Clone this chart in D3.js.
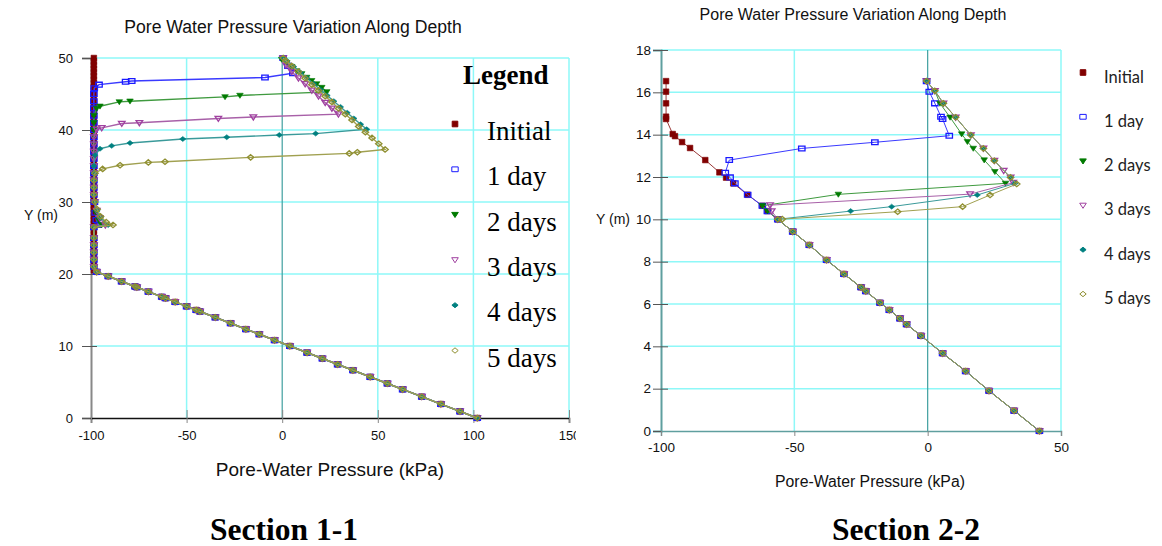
<!DOCTYPE html>
<html><head><meta charset="utf-8">
<script src="https://cdn.jsdelivr.net/npm/d3@7"></script>
<style>body{margin:0;background:#fff;}svg{display:block;}</style>
</head><body>
<svg id="c" width="1162" height="546"></svg>
<script>
// ---------------- DATA ----------------
const seriesNames = ["Initial", "1 day", "2 days", "3 days", "4 days", "5 days"];
const chartTitle = "Pore Water Pressure Variation Along Depth";
const xLabel = "Pore-Water Pressure (kPa)";
const yLabel = "Y (m)";
const sectionNames = ["Section 1-1", "Section 2-2"];

// Section 1-1
const sec1XTicks = [-100, -50, 0, 50, 100, 150];
const sec1YTicks = [0, 10, 20, 30, 40, 50];
const sec1Lower = [[-97,20.3],[-91,19.69],[-84,18.97],[-77,18.26],[-76,18.16],[-70,17.55],[-63,16.83],[-61,16.63],[-56,16.12],[-50,15.51],[-45,15.0],[-43,14.79],[-35,13.98],[-27,13.16],[-19,12.34],[-12,11.63],[-4,10.81],[4,10.0],[13,9.08],[21,8.26],[29,7.45],[37,6.63],[46,5.71],[55,4.79],[63,3.98],[73,2.96],[83,1.94],[93,0.92],[102,0]];
const sec1InitialUpper = [[-98.5,50],[-98.5,49.5],[-98.5,49],[-98.5,48.5],[-98.5,48],[-98.5,47.5],[-98.5,47],[-98.5,46.5],[-98.5,46],[-98.5,45.5],[-98.5,45],[-98.5,44.5],[-98.5,44],[-98.5,43.5],[-98.5,43],[-98.5,42.5],[-98.5,42],[-98.5,41.5],[-98.5,41],[-98.5,40.5],[-98.5,40],[-98.5,39.5],[-98.5,39],[-98.5,38.5],[-98.5,38],[-98.5,37.5],[-98.5,37],[-98.5,36.5],[-98.5,36],[-98.5,35.5],[-98.5,35],[-98.5,34.5],[-98.5,34],[-98.5,33.5],[-98.5,33],[-98.5,32.5],[-98.5,32],[-98.5,31.5],[-98.5,31],[-98.5,30.5],[-98.5,30],[-98.5,29.5],[-98.5,29],[-98.5,28.5],[-98.5,28],[-98.5,27.5],[-98.5,27],[-98.5,26.5],[-98.5,26],[-98.5,25.5],[-98.5,25],[-98.5,24.5],[-98.5,24],[-98.5,23.5],[-98.5,23],[-98.5,22.5],[-98.5,22],[-98.5,21.5],[-98.5,21],[-98.5,20.5]];
const sec1Day1Upper = [[0.5,50],[3,48.9],[5.6,47.9],[-9,47.3],[-78.7,46.8],[-81.9,46.7],[-95.8,46.3],[-98.3,45.8],[-98.5,45],[-98.5,44],[-98.5,43],[-98.5,42],[-98.5,41],[-98.5,40],[-98.5,39],[-98.5,38],[-98.5,37],[-98.5,36],[-98.5,35],[-98.5,34],[-98.5,33],[-98.5,32],[-98.5,31],[-98.2,30],[-97.8,28.5],[-97.2,27.5],[-96.2,26.8],[-98.5,26.5],[-98.5,25],[-98.5,24],[-98.5,23],[-98.5,22],[-98.5,21]];
const sec1Day2Upper = [[-0.3,49.8],[2.35,49.35],[5,48.8],[7.6,48.2],[10.2,47.8],[12.8,47.3],[15.4,46.85],[18,46.4],[20.7,45.9],[23.3,45.3],[-22.1,44.8],[-29.9,44.6],[-79.6,44.0],[-85.2,43.9],[-95.3,43.3],[-97,43.0],[-98.5,42],[-98.5,41],[-98.5,40],[-98.5,39],[-98.5,38],[-98.5,37],[-98.5,36],[-98.5,35],[-98.5,34],[-98.5,33],[-98.5,32],[-98.5,31],[-98,30],[-97.3,28.5],[-96,27.5],[-94.5,26.8],[-98.5,26.5],[-98.5,25],[-98.5,24],[-98.5,23],[-98.5,22],[-98.5,21]];
const sec1Day3Upper = [[0.5,50],[2,49.0],[5,48.1],[8.5,47.2],[12,46.4],[15.5,45.5],[19,44.7],[22.5,43.8],[26,43.0],[29.4,42.2],[-15.1,41.8],[-33.4,41.6],[-74.7,41.0],[-83.9,40.9],[-94.4,40.3],[-97,40.1],[-98.5,39],[-98.5,38],[-98.5,37],[-98.5,36],[-98.5,35],[-98.5,34],[-98.5,33],[-98.5,32],[-98.5,31],[-98,30],[-97,28.8],[-95.5,27.8],[-92.5,26.8],[-98.5,26.5],[-98.5,25],[-98.5,24],[-98.5,23],[-98.5,22],[-98.5,21]];
const sec1Day4Upper = [[0.5,50],[2.5,49.6],[6,48.8],[9.5,48.0],[13,47.2],[16.5,46.4],[20,45.6],[23.5,44.8],[27,44.0],[30.5,43.2],[34,42.4],[37.5,41.6],[41,40.8],[44.2,40.1],[17.5,39.5],[-1.5,39.3],[-29,39.0],[-52,38.75],[-79.6,38.2],[-89.2,37.8],[-95.3,37.4],[-97.9,36.5],[-98.5,35],[-98.5,34],[-98.5,33],[-98.5,32],[-98.5,31],[-98,30],[-96.8,28.8],[-95,27.8],[-91,26.8],[-98.5,26.5],[-98.5,25],[-98.5,24],[-98.5,23],[-98.5,22],[-98.5,21]];
const sec1Day5Upper = [[0.5,50],[2,49.6],[5,48.9],[8.5,48.1],[12,47.2],[15.5,46.3],[19,45.5],[22.5,44.7],[26,43.9],[29.5,43.0],[33,42.2],[36.5,41.4],[40,40.5],[43.5,39.7],[47,38.9],[50.5,38.1],[53.8,37.3],[39.3,36.9],[35.1,36.75],[-16.5,36.2],[-61.3,35.6],[-70,35.5],[-84.8,35.1],[-93.9,34.6],[-97.9,34.0],[-98.5,33],[-98.5,32],[-98.5,31],[-98,30],[-96.8,29],[-95,28],[-92,27.2],[-88.5,26.8],[-98.5,26.5],[-98.5,25],[-98.5,24],[-98.5,23],[-98.5,22],[-98.5,21]];

// Section 2-2
const sec2XTicks = [-100, -50, 0, 50];
const sec2YTicks = [0, 2, 4, 6, 8, 10, 12, 14, 16, 18];
const sec2Lower = [[-56.2,10.0],[-50.6,9.42],[-44.4,8.79],[-37.9,8.08],[-31.4,7.42],[-25.0,6.79],[-23.2,6.61],[-17.9,6.06],[-14.4,5.72],[-10.4,5.32],[-7.9,5.04],[-2.5,4.5],[5.6,3.67],[14.25,2.83],[23.0,1.9],[32.4,0.96],[41.9,0]];
const sec2InitialUpper = [[-98.1,16.53],[-98.1,16.03],[-98.1,15.48],[-98.1,14.85],[-98.1,14.74],[-95.6,14.03],[-94.75,13.93],[-92.1,13.65],[-89.1,13.37],[-83.4,12.8],[-78.1,12.22],[-75.6,11.97],[-72.9,11.7],[-67.5,11.16],[-62,10.64],[-60.1,10.39]];
const sec2Day1Upper = [[-0.4,16.53],[0.6,16.03],[2.7,15.48],[5.0,14.85],[5.6,14.74],[8.1,13.95],[-19.8,13.64],[-47.2,13.35],[-74.4,12.8],[-75.9,12.2],[-74.1,11.98],[-72.3,11.7],[-67.5,11.16],[-62,10.64],[-60.1,10.39]];
const sec2Day2Upper = [[-0.4,16.53],[2.7,16.07],[4.6,15.48],[8.4,14.82],[12.75,14.03],[14.9,13.67],[17.1,13.35],[21.2,12.8],[25.2,12.25],[29.2,11.7],[-33.5,11.18],[-62,10.64],[-60.1,10.39]];
const sec2Day3Upper = [[-0.4,16.53],[2.7,16.07],[5.9,15.48],[10.5,14.82],[16.2,13.98],[20.9,13.35],[25.0,12.77],[28.5,12.3],[31.1,11.98],[32.1,11.73],[15.9,11.19],[-59.1,10.67],[-58.5,10.39]];
const sec2Day4Upper = [[-0.4,16.53],[2.7,16.07],[5.9,15.48],[10.5,14.82],[16.2,13.98],[20.9,13.35],[25.0,12.77],[31.1,11.98],[32.75,11.7],[18.6,11.15],[-13.5,10.6],[-28.9,10.39]];
const sec2Day5Upper = [[-0.4,16.53],[2.7,16.07],[5.9,15.48],[10.5,14.82],[16.2,13.98],[20.9,13.35],[25.0,12.77],[31.1,11.98],[33.4,11.67],[23.4,11.15],[13.1,10.6],[-11.25,10.36],[-54.5,10.01]];

// ---------------- STYLE ----------------
const style = {
  marker: ["#800000", "#1a1aff", "#007a00", "#a040a0", "#008080", "#8f8f30"],
  line:   ["#9a3a3a", "#3a3aff", "#3f9a3f", "#a860a8", "#3a9a9a", "#a0a050"],
  shape:  ["squareFill", "squareOpen", "triFill", "triOpen", "diamondFill", "diamondOpen"],
  grid: "#8ef8f8",
  zero: "#3f9f9f"
};

const svg = d3.select("#c");
svg.append("rect").attr("width", 1162).attr("height", 546).attr("fill", "#fff");

function markerPath(shape) {
  switch (shape) {
    case "squareFill": return "M-2.8,-2.8h5.6v5.6h-5.6z";
    case "squareOpen": return "M-3.2,-2.4h6.4v4.8h-6.4z";
    case "triFill": return "M-3.3,-2.2L3.3,-2.2L0,2.9z";
    case "triOpen": return "M-3.3,-2.2L3.3,-2.2L0,2.9z";
    case "diamondFill": return "M0,-2.5L3.1,0L0,2.5L-3.1,0z";
    case "diamondOpen": return "M0,-2.7L3.2,0L0,2.7L-3.2,0z";
  }
}
const isOpen = s => s.endsWith("Open");
const fmt = d => String(d);

function drawChart(cfg) {
  const g = svg.append("g");
  if (cfg.clipRight) {
    const id = "clip" + cfg.id;
    svg.append("clipPath").attr("id", id).append("rect")
      .attr("x", 0).attr("y", 0).attr("width", cfg.clipRight).attr("height", 546);
    g.attr("clip-path", `url(#${id})`);
  }
  const x = d3.scaleLinear().domain(cfg.xDomain).range([cfg.left, cfg.right]);
  const y = d3.scaleLinear().domain(cfg.yDomain).range([cfg.bottom, cfg.top]);

  // grid
  g.append("g").selectAll("line").data(cfg.yTicks.filter(v => v !== cfg.yDomain[0]))
    .join("line").attr("x1", cfg.left).attr("x2", cfg.right)
    .attr("y1", d => y(d)).attr("y2", d => y(d))
    .attr("stroke", style.grid).attr("stroke-width", 1.5);
  g.append("g").selectAll("line").data(cfg.xTicks.filter(v => v !== cfg.xDomain[0]))
    .join("line").attr("y1", cfg.top).attr("y2", cfg.bottom)
    .attr("x1", d => x(d)).attr("x2", d => x(d))
    .attr("stroke", d => d === 0 ? style.zero : style.grid).attr("stroke-width", d => d === 0 ? 1.2 : 1.5);

  // axes
  const ya = g.append("g").attr("transform", `translate(${cfg.left},0)`)
    .call(d3.axisLeft(y).tickValues(cfg.yTicks).tickSize(cfg.yTickOut).tickPadding(cfg.yPad).tickFormat(fmt));
  ya.select(".domain").attr("stroke", cfg.yAxisColor).attr("stroke-width", 2);
  ya.selectAll(".tick line").attr("x1", cfg.yTickIn).attr("stroke", "#555");
  ya.selectAll("text").attr("font-family", "Liberation Sans, Arial, sans-serif").attr("font-size", cfg.tickFont).attr("fill", "#111");

  const xa = g.append("g").attr("transform", `translate(0,${cfg.bottom})`)
    .call(d3.axisBottom(x).tickValues(cfg.xTicks).tickSize(cfg.xTickOut).tickPadding(cfg.xPad).tickFormat(fmt));
  xa.select(".domain").attr("stroke", cfg.xAxisColor).attr("stroke-width", 1.5);
  xa.selectAll(".tick line").attr("y1", -cfg.xTickIn).attr("stroke", "#888");
  xa.selectAll("text").attr("font-family", "Liberation Sans, Arial, sans-serif").attr("font-size", cfg.tickFont).attr("fill", "#111");

  // series
  const line = d3.line().x(d => x(d[0])).y(d => y(d[1]));
  cfg.series.forEach((pts, i) => {
    const sg = g.append("g");
    sg.append("path").datum(pts).attr("d", line).attr("fill", "none")
      .attr("stroke", style.line[i]).attr("stroke-width", cfg.lineWidth);
    sg.selectAll("path.m").data(pts).join("path").attr("class", "m")
      .attr("transform", d => `translate(${x(d[0])},${y(d[1])})`)
      .attr("d", markerPath(style.shape[i]))
      .attr("fill", isOpen(style.shape[i]) ? "none" : style.marker[i])
      .attr("stroke", style.marker[i]).attr("stroke-width", isOpen(style.shape[i]) ? 1.3 : 0.6);
  });

  // texts
  const sans = "Liberation Sans, Arial, sans-serif";
  svg.append("text").attr("x", cfg.titleX).attr("y", cfg.titleY).attr("text-anchor", "middle")
    .attr("font-family", sans).attr("font-size", cfg.titleFont).attr("fill", "#111").text(chartTitle);
  svg.append("text").attr("x", cfg.xLabelX).attr("y", cfg.xLabelY).attr("text-anchor", "middle")
    .attr("font-family", sans).attr("font-size", cfg.xLabelFont).attr("fill", "#111").text(xLabel);
  svg.append("text").attr("x", cfg.yLabelX).attr("y", cfg.yLabelY)
    .attr("font-family", sans).attr("font-size", 14).attr("fill", "#111").text(yLabel);
  svg.append("text").attr("x", cfg.sectionX).attr("y", 540).attr("text-anchor", "middle")
    .attr("font-family", "Liberation Serif, Times New Roman, serif").attr("font-weight", "bold")
    .attr("font-size", 31.5).attr("fill", "#000").text(cfg.section);

  // legend
  const lg = svg.append("g");
  if (cfg.legendTitle) {
    lg.append("text").attr("x", cfg.legendTitleX).attr("y", cfg.legendTitleY)
      .attr("font-family", "Liberation Serif, Times New Roman, serif").attr("font-weight", "bold")
      .attr("font-size", 27).attr("fill", "#000").text("Legend");
  }
  seriesNames.forEach((name, i) => {
    const my = cfg.legendMarkerY0 + i * cfg.legendStep;
    lg.append("path").attr("transform", `translate(${cfg.legendMarkerX},${my})`)
      .attr("d", markerPath(style.shape[i]))
      .attr("fill", isOpen(style.shape[i]) ? "none" : style.marker[i])
      .attr("stroke", style.marker[i]).attr("stroke-width", 1);
    lg.append("text").attr("x", cfg.legendTextX).attr("y", cfg.legendTextY0 + i * cfg.legendStep)
      .attr("font-family", cfg.legendFontFamily).attr("font-size", cfg.legendFont)
      .attr("fill", cfg.legendTextColor).text(name);
  });
}

drawChart({
  id: 1, section: sectionNames[0],
  left: 91, right: 569, top: 58, bottom: 418, clipRight: 576,
  xDomain: [-100, 150], yDomain: [0, 50], xTicks: sec1XTicks, yTicks: sec1YTicks,
  yTickOut: 9, yTickIn: 6, yPad: 9, xTickOut: 5, xTickIn: 8, xPad: 8, tickFont: 13,
  yAxisColor: "#888", xAxisColor: "#111", lineWidth: 1.4,
  series: [
    sec1InitialUpper.concat(sec1Lower),
    sec1Day1Upper.concat(sec1Lower),
    sec1Day2Upper.concat(sec1Lower),
    sec1Day3Upper.concat(sec1Lower),
    sec1Day4Upper.concat(sec1Lower),
    sec1Day5Upper.concat(sec1Lower)
  ],
  titleX: 293, titleY: 33, titleFont: 17.6,
  xLabelX: 330, xLabelY: 476, xLabelFont: 19,
  yLabelX: 24, yLabelY: 220,
  sectionX: 284,
  legendTitle: true, legendTitleX: 463, legendTitleY: 84,
  legendMarkerX: 455, legendMarkerY0: 124, legendStep: 45.3,
  legendTextX: 487, legendTextY0: 140, legendFont: 27,
  legendFontFamily: "Liberation Serif, Times New Roman, serif", legendTextColor: "#000"
});

drawChart({
  id: 2, section: sectionNames[1],
  left: 661, right: 1061, top: 50, bottom: 431,
  xDomain: [-100, 50], yDomain: [0, 18], xTicks: sec2XTicks, yTicks: sec2YTicks,
  yTickOut: 8, yTickIn: 7, yPad: 2, xTickOut: 5, xTickIn: 0, xPad: 6, tickFont: 13.5,
  yAxisColor: "#5f9f9f", xAxisColor: "#5f9f9f", lineWidth: 1,
  series: [
    sec2InitialUpper.concat(sec2Lower),
    sec2Day1Upper.concat(sec2Lower),
    sec2Day2Upper.concat(sec2Lower),
    sec2Day3Upper.concat(sec2Lower),
    sec2Day4Upper.concat(sec2Lower),
    sec2Day5Upper.concat(sec2Lower)
  ],
  titleX: 853, titleY: 20, titleFont: 16,
  xLabelX: 870, xLabelY: 487, xLabelFont: 15.8,
  yLabelX: 596, yLabelY: 224,
  sectionX: 906,
  legendTitle: false,
  legendMarkerX: 1083, legendMarkerY0: 72.5, legendStep: 44.3,
  legendTextX: 1104, legendTextY0: 82.5, legendFont: 16.5,
  legendFontFamily: "Lato, Open Sans, sans-serif", legendTextColor: "#222"
});
</script>
</body></html>
